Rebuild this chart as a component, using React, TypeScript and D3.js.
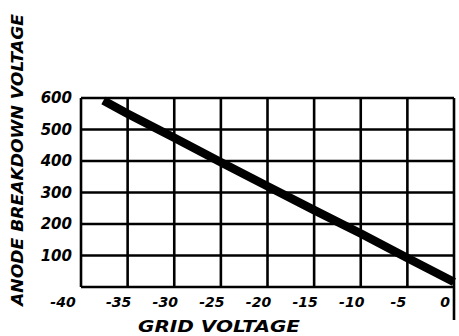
import React from "react";
import * as d3 from "d3";

const gridVoltage = [-37.6, -35, -30, -25, -20, -15, -10, -5, 0];
const breakdownVoltage = [592, 550, 474, 396, 320, 244, 170, 92, 16];
const xTicks = [-40, -35, -30, -25, -20, -15, -10, -5, 0];
const yTicks = [100, 200, 300, 400, 500, 600];
const xTitle = "GRID VOLTAGE";
const yTitle = "ANODE BREAKDOWN VOLTAGE";

export default function App() {
  const W = 459, H = 336;
  const x = d3.scaleLinear().domain([-40, 0]).range([81, 454]);
  const y = d3.scaleLinear().domain([0, 600]).range([287, 98]);
  const pts = gridVoltage.map((g, i) => [g, breakdownVoltage[i]] as [number, number]);
  const line = d3.line<[number, number]>().x(d => x(d[0])).y(d => y(d[1]));
  const font = "'DejaVu Sans', sans-serif";
  const gridStyle = { stroke: "#000", strokeWidth: 2.6 };
  return (
    <svg width={W} height={H} style={{ position: "absolute", left: 0, top: 0, background: "#fff" }}>
      {xTicks.map(t => (
        <line key={"vx" + t} x1={x(t)} x2={x(t)} y1={y(600)} y2={t === 0 ? 320 : y(0)} {...gridStyle} />
      ))}
      {[0, ...yTicks].map(t => (
        <line key={"hy" + t} x1={x(-40)} x2={x(0)} y1={y(t)} y2={y(t)} {...gridStyle} />
      ))}
      <path d={line(pts) || ""} fill="none" stroke="#000" strokeWidth={8.5} strokeLinecap="butt" strokeLinejoin="round" />
      {yTicks.map(t => (
        <text key={"yl" + t} x={72} y={y(t)} dy="0.35em" textAnchor="end"
          fontFamily={font} fontWeight="bold" fontStyle="italic" fontSize={15}>{t}</text>
      ))}
      {xTicks.map(t => (
        <text key={"xl" + t} x={x(t) - (t === -40 ? 18 : 9)} y={302} dy="0.35em" textAnchor="middle"
          fontFamily={font} fontWeight="bold" fontStyle="italic" fontSize={14}>{String(t)}</text>
      ))}
      <text x={219} y={326} dy="0.35em" textAnchor="middle" fontFamily={font} fontWeight="bold"
        fontStyle="italic" fontSize={16} textLength={162} lengthAdjust="spacingAndGlyphs">{xTitle}</text>
      <text transform="translate(18,160) rotate(-90)" textAnchor="middle" dy="0.35em" fontFamily={font}
        fontWeight="bold" fontStyle="italic" fontSize={15} textLength={292} lengthAdjust="spacingAndGlyphs">{yTitle}</text>
    </svg>
  );
}
